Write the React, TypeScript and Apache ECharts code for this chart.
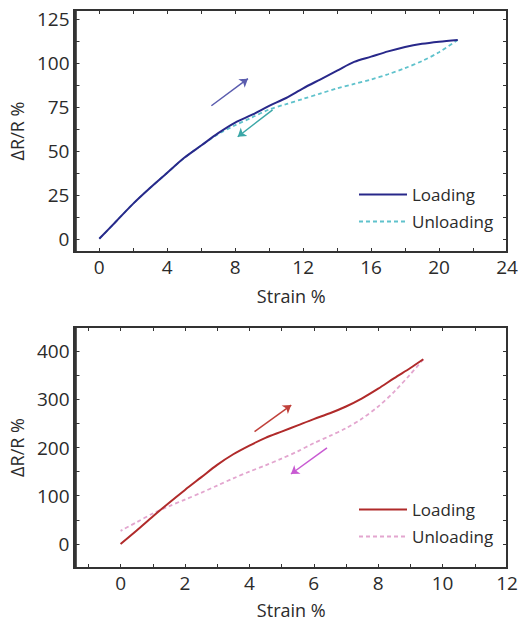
import React, { useEffect, useRef } from "react";
import * as echarts from "echarts";

// Top panel
const topLoadStrain = [0, 1, 2, 3, 4, 5, 6, 7, 8, 9, 10, 11, 12, 13, 14, 15, 16, 17, 18, 19, 20, 21.1];
const topLoadValue = [0, 10, 20, 29, 37.5, 46, 53, 60, 66, 70.5, 75.5, 80, 85.5, 90.5, 95.5, 100.5, 103.5, 106.5, 109, 110.8, 112, 113];
const topUnloadStrain = [21.1, 20, 19, 18, 17, 16, 15, 14, 13, 12, 11, 10, 9, 8, 7, 6, 5, 4, 3, 2, 1, 0];
const topUnloadValue = [113, 106, 101, 97, 93.5, 90.5, 88, 85.5, 82.5, 79.5, 76.5, 73.5, 69, 64.5, 59.5, 53, 46, 37.5, 29, 20, 10, 0];
const topXLabels = [0, 4, 8, 12, 16, 20, 24];
const topXTicks = [0, 2, 4, 6, 8, 10, 12, 14, 16, 18, 20, 22, 24];
const topYLabels = [0, 25, 50, 75, 100, 125];
const topYTicks = [0, 12.5, 25, 37.5, 50, 62.5, 75, 87.5, 100, 112.5, 125];
const topArrowLoad = [[6.6, 75.6], [8.75, 91]];
const topArrowUnload = [[10.2, 73.3], [8.15, 58]];

// Bottom panel
const botLoadStrain = [0, 0.5, 1, 1.5, 2, 2.5, 3, 3.5, 4, 4.5, 5, 5.5, 6, 6.5, 7, 7.5, 8, 8.5, 9, 9.4];
const botLoadValue = [0, 28, 57, 85, 112, 138, 164, 186, 204, 220, 233, 246, 259, 271, 285, 302, 322, 344, 365, 383];
const botUnloadStrain = [9.4, 9, 8.5, 8, 7.5, 7, 6.5, 6, 5.5, 5, 4.5, 4, 3.5, 3, 2.5, 2, 1.5, 1, 0.5, 0];
const botUnloadValue = [383, 352, 316, 285, 260, 240, 224, 209, 192, 177, 163, 150, 136, 121, 106, 92, 78, 63, 45, 27];
const botXLabels = [0, 2, 4, 6, 8, 10, 12];
const botXTicks = [-1, 0, 1, 2, 3, 4, 5, 6, 7, 8, 9, 10, 11, 12];
const botYLabels = [0, 100, 200, 300, 400];
const botYTicks = [-50, 0, 50, 100, 150, 200, 250, 300, 350, 400, 450];
const botArrowLoad = [[4.16, 233], [5.3, 288]];
const botArrowUnload = [[6.41, 199], [5.29, 145]];

const legendNames = ["Loading", "Unloading"];

const zip = (xs: number[], ys: number[]) => xs.map((x, i) => [x, ys[i]]);

const FONT = "Open Sans";
const AXIS_COLOR = "#333333";
const TEXT_COLOR = "#2b2b2b";

// plot frames (layout only)
const GRID_LEFT = 74;
const GRID_WIDTH = 433;
const TOP_GRID = { top: 10, height: 242 };
const BOT_GRID = { top: 327, height: 241 };

function makeX(gridIndex: number, min: number, max: number, labels: number[], ticks: number[], pos: "bottom" | "top", showLabel: boolean, name: string, nameGap: number) {
  return {
    type: "value",
    gridIndex,
    position: pos,
    min,
    max,
    name: showLabel ? name : "",
    nameLocation: "middle",
    nameGap,
    nameTextStyle: { fontFamily: FONT, fontSize: 18, color: TEXT_COLOR },
    axisLine: { show: true, onZero: false, lineStyle: { color: AXIS_COLOR, width: 1.5 } },
    axisTick: { show: true, inside: true, length: 4, customValues: ticks, lineStyle: { color: AXIS_COLOR, width: 1 } },
    axisLabel: { show: showLabel, customValues: labels, margin: 5, fontFamily: FONT, fontSize: 19, color: TEXT_COLOR },
    splitLine: { show: false },
  };
}

function makeY(gridIndex: number, min: number, max: number, labels: number[], ticks: number[], pos: "left" | "right", showLabel: boolean, nameGap: number) {
  return {
    type: "value",
    gridIndex,
    position: pos,
    min,
    max,
    name: showLabel ? "ΔR/R %" : "",
    nameLocation: "middle",
    nameGap,
    nameTextStyle: { fontFamily: FONT, fontSize: 18, color: TEXT_COLOR },
    axisLine: { show: true, onZero: false, lineStyle: { color: AXIS_COLOR, width: 1.5 } },
    axisTick: { show: true, inside: true, length: 4, customValues: ticks, lineStyle: { color: AXIS_COLOR, width: 1 } },
    axisLabel: { show: showLabel, customValues: labels, margin: 6, fontFamily: FONT, fontSize: 19, color: TEXT_COLOR },
    splitLine: { show: false },
  };
}

export default function App() {
  const ref = useRef<HTMLDivElement>(null);
  useEffect(() => {
    if (!ref.current) return;
    const chart = echarts.init(ref.current, undefined, { renderer: "svg" });
    const arrow = (id: string, xi: number, coords: number[][], color: string) => ({
      id,
      type: "lines",
      coordinateSystem: "cartesian2d",
      xAxisIndex: xi,
      yAxisIndex: xi,
      symbol: ["none", "arrow"],
      symbolSize: 8,
      silent: true,
      lineStyle: { color, width: 1.5, opacity: 1, curveness: 0 },
      data: [{ coords }],
    });
    const mirror = (id: string, idx: number, data: number[][]) => ({
      id,
      type: "line",
      xAxisIndex: idx,
      yAxisIndex: idx,
      data,
      silent: true,
      symbol: "none",
      lineStyle: { opacity: 0 },
    });
    const legendCommon = {
      orient: "vertical",
      padding: 0,
      itemWidth: 48,
      itemHeight: 14,
      itemGap: 10,
      itemStyle: { opacity: 0 },
      formatter: (n: string) => (n.endsWith("Unloading") ? legendNames[1] : legendNames[0]),
      textStyle: { fontFamily: FONT, fontSize: 17, color: TEXT_COLOR },
    };
    const frame = (g: { top: number; height: number }) => ({
      type: "rect",
      silent: true,
      z: 50,
      shape: { x: GRID_LEFT, y: g.top, width: GRID_WIDTH, height: g.height },
      style: { fill: "none", stroke: AXIS_COLOR, lineWidth: 2 },
    });
    chart.setOption({
      animation: false,
      grid: [
        { left: GRID_LEFT, width: GRID_WIDTH, ...TOP_GRID, show: true, borderColor: AXIS_COLOR, borderWidth: 1.5 },
        { left: GRID_LEFT, width: GRID_WIDTH, ...BOT_GRID, show: true, borderColor: AXIS_COLOR, borderWidth: 1.5 },
      ],
      xAxis: [
        makeX(0, -1.4, 24, topXLabels, topXTicks, "bottom", true, "Strain %", 35),
        makeX(0, -1.4, 24, topXLabels, topXTicks, "top", false, "", 0),
        makeX(1, -1.4, 12, botXLabels, botXTicks, "bottom", true, "Strain %", 33),
        makeX(1, -1.4, 12, botXLabels, botXTicks, "top", false, "", 0),
      ],
      yAxis: [
        makeY(0, -7.5, 130, topYLabels, topYTicks, "left", true, 40),
        makeY(0, -7.5, 130, topYLabels, topYTicks, "right", false, 0),
        makeY(1, -50, 450, botYLabels, botYTicks, "left", true, 40),
        makeY(1, -50, 450, botYLabels, botYTicks, "right", false, 0),
      ],
      legend: [
        { ...legendCommon, left: 358, top: 186, data: ["top-Loading", "top-Unloading"] },
        { ...legendCommon, left: 358, top: 501, data: ["bot-Loading", "bot-Unloading"] },
      ],
      graphic: { elements: [frame(TOP_GRID), frame(BOT_GRID)] },
      series: [
        {
          name: "top-Unloading",
          type: "line",
          xAxisIndex: 0,
          yAxisIndex: 0,
          data: zip(topUnloadStrain, topUnloadValue),
          smooth: 0.3,
          symbol: "none",
          color: "#5fc2cc",
          lineStyle: { color: "#5fc2cc", width: 1.8, type: [4, 3] },
        },
        {
          name: "top-Loading",
          type: "line",
          xAxisIndex: 0,
          yAxisIndex: 0,
          data: zip(topLoadStrain, topLoadValue),
          smooth: 0.3,
          symbol: "none",
          color: "#28288a",
          lineStyle: { color: "#28288a", width: 2 },
        },
        {
          name: "bot-Unloading",
          type: "line",
          xAxisIndex: 2,
          yAxisIndex: 2,
          data: zip(botUnloadStrain, botUnloadValue),
          smooth: 0.3,
          symbol: "none",
          color: "#e3a6cf",
          lineStyle: { color: "#e3a6cf", width: 1.8, type: [4, 3] },
        },
        {
          name: "bot-Loading",
          type: "line",
          xAxisIndex: 2,
          yAxisIndex: 2,
          data: zip(botLoadStrain, botLoadValue),
          smooth: 0.3,
          symbol: "none",
          color: "#b02a2a",
          lineStyle: { color: "#b02a2a", width: 2 },
        },
        mirror("m1", 1, zip(topLoadStrain, topLoadValue)),
        mirror("m3", 3, zip(botLoadStrain, botLoadValue)),
        arrow("a1", 0, topArrowLoad, "#5a5cae"),
        arrow("a2", 0, topArrowUnload, "#3ba7a7"),
        arrow("a3", 2, botArrowLoad, "#c0403a"),
        arrow("a4", 2, botArrowUnload, "#c85ad2"),
      ],
    });
    return () => chart.dispose();
  }, []);
  return (
    <div
      ref={ref}
      style={{ position: "absolute", left: 0, top: 0, width: 531, height: 622, background: "#fff" }}
    />
  );
}
